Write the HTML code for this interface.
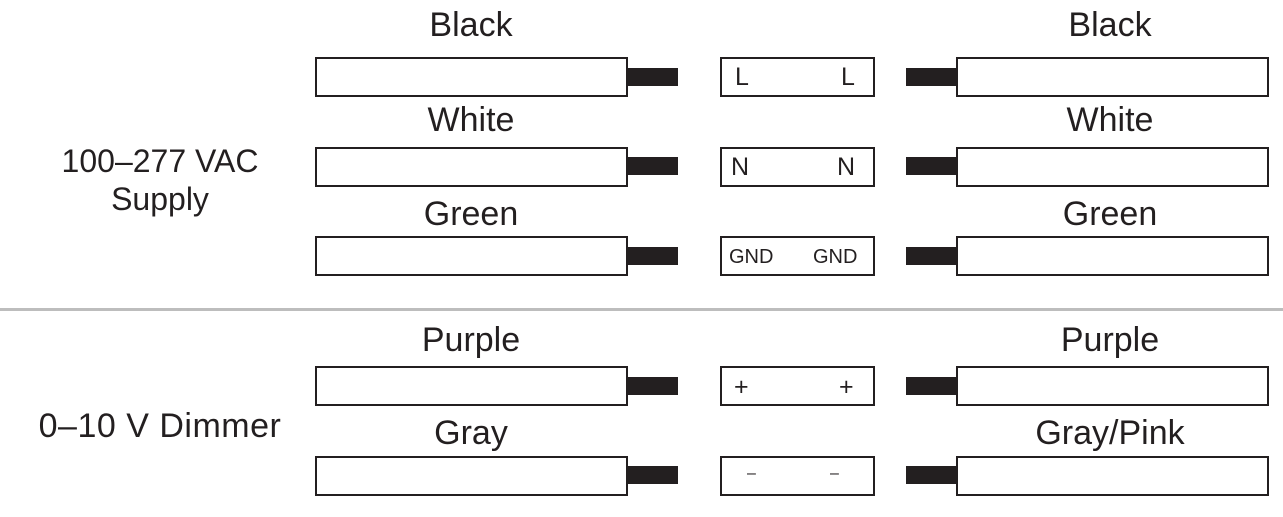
<!DOCTYPE html>
<html><head><style>
body{margin:0;width:1283px;height:517px;background:#fff;position:relative;overflow:hidden;font-family:"Liberation Sans",Arial,sans-serif;color:#231f20}
.b{position:absolute;box-sizing:border-box;border:2.5px solid #231f20;background:#fff;height:40px}
.s{position:absolute;background:#231f20;height:18px;width:51px}
.t{position:absolute;font-size:34px;text-align:center;width:400px;line-height:1}
.c{position:absolute;font-size:25px;line-height:1}
.g{font-size:20px}
.side{position:absolute;font-size:32px;text-align:center;width:320px;line-height:38px}
</style></head><body>
<div class="side" style="left:0px;top:142px">100–277 VAC<br>Supply</div>
<div class="side" style="left:0px;top:407px;font-size:34px;letter-spacing:0.5px">0–10 V Dimmer</div>
<div style="position:absolute;left:0;top:308px;width:1283px;height:3px;background:#bdbdbd"></div>

<div class="t" style="left:271px;top:8px">Black</div><div class="t" style="left:910px;top:8px">Black</div>
<div class="t" style="left:271px;top:103px">White</div><div class="t" style="left:910px;top:103px">White</div>
<div class="t" style="left:271px;top:197px">Green</div><div class="t" style="left:910px;top:197px">Green</div>
<div class="t" style="left:271px;top:323px">Purple</div><div class="t" style="left:910px;top:323px">Purple</div>
<div class="t" style="left:271px;top:416px">Gray</div><div class="t" style="left:910px;top:416px">Gray/Pink</div>

<div class="b" style="left:315px;top:57px;width:313px"></div><div class="s" style="left:627px;top:68px"></div>
<div class="b" style="left:720px;top:57px;width:155px"></div><div class="s" style="left:906px;top:68px"></div>
<div class="b" style="left:956px;top:57px;width:313px"></div>
<div class="c" style="left:735px;top:65px">L</div><div class="c" style="left:841px;top:65px">L</div>

<div class="b" style="left:315px;top:147px;width:313px"></div><div class="s" style="left:627px;top:157px"></div>
<div class="b" style="left:720px;top:147px;width:155px"></div><div class="s" style="left:906px;top:157px"></div>
<div class="b" style="left:956px;top:147px;width:313px"></div>
<div class="c" style="left:731px;top:155px">N</div><div class="c" style="left:837px;top:155px">N</div>

<div class="b" style="left:315px;top:236px;width:313px"></div><div class="s" style="left:627px;top:247px"></div>
<div class="b" style="left:720px;top:236px;width:155px"></div><div class="s" style="left:906px;top:247px"></div>
<div class="b" style="left:956px;top:236px;width:313px"></div>
<div class="c g" style="left:729px;top:247px">GND</div><div class="c g" style="left:813px;top:247px">GND</div>

<div class="b" style="left:315px;top:366px;width:313px"></div><div class="s" style="left:627px;top:377px"></div>
<div class="b" style="left:720px;top:366px;width:155px"></div><div class="s" style="left:906px;top:377px"></div>
<div class="b" style="left:956px;top:366px;width:313px"></div>
<div class="c" style="left:734px;top:375px">+</div><div class="c" style="left:839px;top:375px">+</div>

<div class="b" style="left:315px;top:456px;width:313px"></div><div class="s" style="left:627px;top:466px"></div>
<div class="b" style="left:720px;top:456px;width:155px"></div><div class="s" style="left:906px;top:466px"></div>
<div class="b" style="left:956px;top:456px;width:313px"></div>
<div class="c" style="left:747px;top:466px;font-size:16px">–</div><div class="c" style="left:830px;top:466px;font-size:16px">–</div>
</body></html>
